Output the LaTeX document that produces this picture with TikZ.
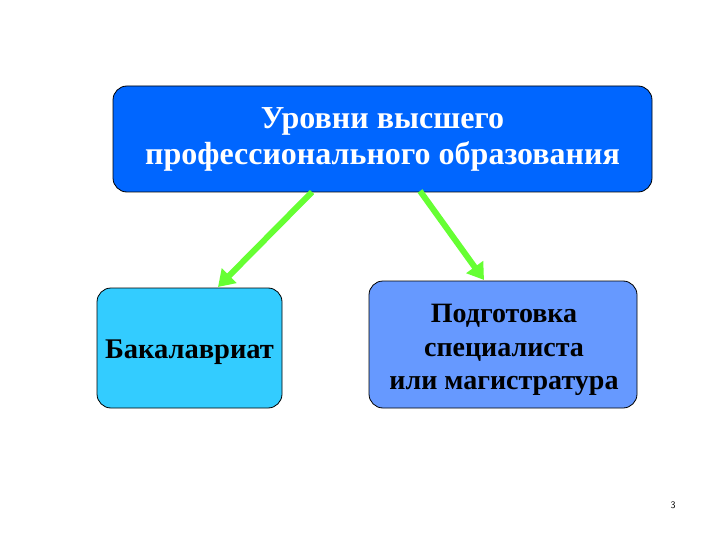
\documentclass[tikz,border=0pt]{standalone}
\usepackage{fontspec}
\setmainfont{Liberation Serif}
\usetikzlibrary{arrows.meta}
\definecolor{topblue}{RGB}{0,102,255}
\definecolor{cyanbox}{RGB}{51,204,255}
\definecolor{lightblue}{RGB}{102,153,255}
\definecolor{arrowgreen}{RGB}{102,255,51}
\tikzset{
  box/.style={draw=black, line width=0.8pt, rounded corners=14pt, inner sep=0pt},
  boxtext/.style={align=center, inner sep=0pt},
  conn/.style={draw=arrowgreen, line width=6pt, -{Triangle[length=16pt,width=20pt]}, shorten >=0pt}
}
\begin{document}
\begin{tikzpicture}[x=1pt,y=-1pt]
\useasboundingbox (0,0) rectangle (720,540);
\node[box, fill=topblue, minimum width=539pt, minimum height=106pt] (top) at (382.5,139) {};
\node[boxtext, text=white, font=\bfseries\fontsize{32}{36}\selectfont] (toptext) at (382.5,139) {Уровни высшего\\ профессионального образования};
\node[box, fill=cyanbox, minimum width=185pt, minimum height=120pt] (bak) at (189.5,348) {};
\node[boxtext, text=black, font=\bfseries\fontsize{28.5}{33.5}\selectfont] (baktext) at (189.5,352) {Бакалавриат};
\node[box, fill=lightblue, minimum width=268pt, minimum height=127pt] (spec) at (503,344.5) {};
\node[boxtext, text=black, font=\bfseries\fontsize{28}{33.5}\selectfont] (spectext) at (504,350) {Подготовка\\ специалиста\\ или магистратура};
\coordinate (a1) at (312,192);
\coordinate (a2) at (420,191);
\draw[conn] (a1) -- (218,287) coordinate (b1);
\draw[conn] (a2) -- (484,280) coordinate (b2);
\node[font=\sffamily\fontsize{10}{12}\selectfont] (pg) at (673,505) {3};
\end{tikzpicture}
\end{document}
